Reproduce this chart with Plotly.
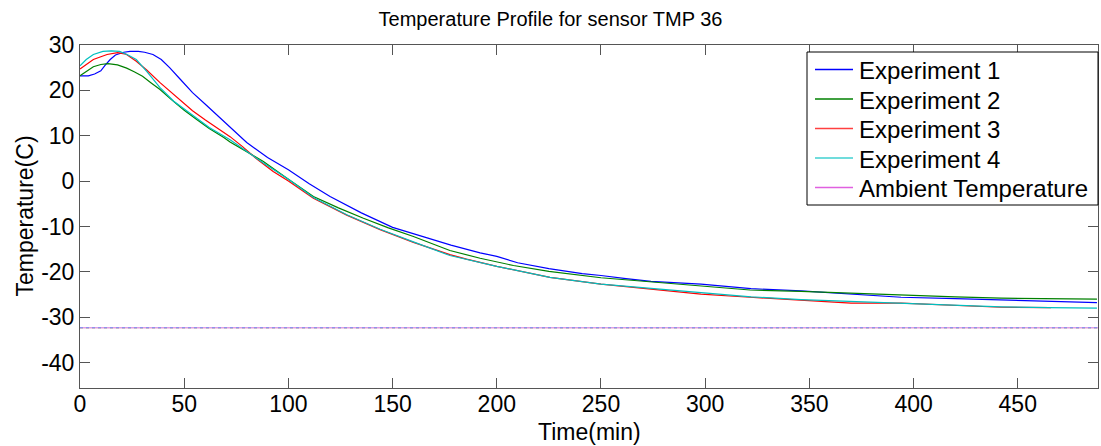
import plotly.graph_objects as go

# ---- data ----
t_exp1 = [0, 4, 7, 10, 12, 14.5, 17, 21, 24, 28, 31, 35, 39, 43, 48, 54, 60, 70, 80, 90, 100, 110, 120, 135, 150,
          165, 178, 192, 200, 210, 225, 241, 250, 262, 274, 298, 322, 346, 370, 394, 420, 442, 465, 488]
T_exp1 = [23.2, 23.2, 23.6, 24.3, 25.5, 26.8, 27.8, 28.4, 28.6, 28.6, 28.4, 27.9, 26.8, 25.0, 22.5, 19.5, 17.0, 12.8,
          8.5, 5.2, 2.5, -0.6, -3.4, -7.0, -10.2, -12.3, -14.1, -15.8, -16.6, -18.0, -19.3, -20.4, -20.8, -21.5,
          -22.1, -22.7, -23.7, -24.2, -24.9, -25.6, -25.9, -26.2, -26.5, -26.8]

t_exp2 = [0, 3, 6.4, 10, 13.4, 18, 22.4, 26, 30, 34, 38.4, 44, 50, 56, 62, 69, 72, 80, 88, 100, 112, 124, 136, 148,
          160, 177.5, 192, 208, 225, 250, 273.5, 298, 321.5, 346, 370, 394, 420, 442, 465, 488]
T_exp2 = [23.2, 24.2, 25.2, 25.7, 25.9, 25.6, 24.9, 24.1, 23.1, 21.7, 20.2, 17.9, 15.6, 13.6, 11.6, 9.6, 8.6, 6.5,
          4.3, 0.4, -3.4, -5.9, -8.2, -10.3, -12.2, -15.3, -17.0, -18.6, -19.9, -21.3, -22.2, -23.1, -24.0, -24.3,
          -24.7, -25.2, -25.5, -25.8, -25.9, -26.0]

t_exp3 = [0, 3, 6.4, 10, 13, 18, 22, 27, 32, 38.4, 45, 54, 60, 72, 78, 85, 92.7, 100, 112, 128, 144, 160, 177.5,
          185.5, 200, 225.5, 250, 273.5, 298, 321.5, 346, 370, 394, 420, 442, 466]
T_exp3 = [24.7, 25.7, 26.8, 27.4, 27.9, 28.3, 28.0, 26.4, 24.5, 21.7, 19.0, 15.5, 13.5, 9.8, 7.6, 4.8, 2.1, 0.0,
          -3.8, -7.5, -10.7, -13.5, -16.2, -17.2, -18.8, -21.2, -22.7, -23.7, -24.9, -25.6, -26.2, -26.9, -26.9,
          -27.3, -27.8, -27.9]

t_exp4 = [0, 3, 6.4, 11, 15, 19, 23, 27, 32, 38.4, 45, 54, 62, 72, 80, 88, 100, 112, 128, 144, 160, 177.5, 200,
          225.5, 250, 273.5, 298, 322, 346, 370, 394, 420, 442, 465, 488]
T_exp4 = [25.4, 26.8, 27.9, 28.6, 28.7, 28.6, 27.8, 26.8, 24.2, 20.6, 17.6, 14.6, 11.8, 9.1, 6.5, 4.0, 0.4, -3.6,
          -7.4, -10.6, -13.4, -16.4, -18.8, -21.2, -22.7, -23.6, -24.7, -25.5, -26.1, -26.5, -26.9, -27.3, -27.7,
          -27.9, -28.0]

t_ambient = [0, 488.5]
T_ambient = [-32.3, -32.3]

series_names = ["Experiment 1", "Experiment 2", "Experiment 3", "Experiment 4", "Ambient Temperature"]
x_ticks = [0, 50, 100, 150, 200, 250, 300, 350, 400, 450]
x_tick_labels = ["0", "50", "100", "150", "200", "250", "300", "350", "400", "450"]
y_ticks = [-40, -30, -20, -10, 0, 10, 20, 30]
y_tick_labels = ["-40", "-30", "-20", "-10", "0", "10", "20", "30"]

colors = ["#0000FF", "#008000", "#FF0000", "#00BFBF", "#BF00BF"]
FONT = "Arial, Liberation Sans, sans-serif"

# plot-area geometry (pixels) used for paper-coordinate placement of decorations
W, H = 1101, 446
L, R, T, B = 80, 3, 45, 58
PW, PH = W - L - R, H - T - B

fig = go.Figure()
for name, t, Tv, c in zip(series_names[:4], [t_exp1, t_exp2, t_exp3, t_exp4],
                          [T_exp1, T_exp2, T_exp3, T_exp4], colors[:4]):
    fig.add_trace(go.Scatter(x=t, y=Tv, mode="lines", name=name, showlegend=False,
                             line=dict(color=c, width=1.2)))

# ambient line: mixed-colour dotted look
fig.add_trace(go.Scatter(x=t_ambient, y=T_ambient, mode="lines", name=series_names[4], showlegend=False,
                         line=dict(color="#e0a0e0", width=1.5)))
for c in ["#f0a070", "#90d090", "#9090f0"]:
    fig.add_trace(go.Scatter(x=t_ambient, y=T_ambient, mode="lines", showlegend=False,
                             line=dict(color=c, width=1.3, dash="dot"), hoverinfo="skip"))

axis_common = dict(showline=True, linecolor="#555555", linewidth=1, mirror="ticks",
                   ticks="inside", ticklen=10, tickcolor="#555555", tickwidth=1,
                   showgrid=False, zeroline=False,
                   tickfont=dict(family=FONT, size=23, color="black"))

fig.update_layout(
    width=W, height=H,
    margin=dict(l=L, r=R, t=T, b=B),
    paper_bgcolor="white", plot_bgcolor="white",
    font=dict(family=FONT, color="black"),
    title=dict(text="Temperature Profile for sensor TMP 36", x=0.5, xref="container",
               y=1 - 19 / H, yref="container", yanchor="middle", xanchor="center",
               font=dict(family=FONT, size=20, color="black")),
    xaxis=dict(range=[0, 488.5], tickvals=x_ticks, ticktext=x_tick_labels,
               ticklabelstandoff=-5, **axis_common),
    yaxis=dict(range=[-45.6, 30], tickvals=y_ticks, ticktext=y_tick_labels,
               ticklabelstandoff=0, **axis_common),
    showlegend=False,
)

# axis titles
fig.add_annotation(text="Time(min)", xref="paper", yref="paper", x=0.5, y=-(432 - (H - B)) / PH,
                   xanchor="center", yanchor="middle", showarrow=False,
                   font=dict(family=FONT, size=23, color="black"))
fig.add_annotation(text="Temperature(C)", xref="paper", yref="paper", x=-(L - 24) / PW, y=0.5,
                   xanchor="center", yanchor="middle", showarrow=False, textangle=-90,
                   font=dict(family=FONT, size=23, color="black"))

# legend box (MATLAB style)
def px_x(p):
    return (p - L) / PW

def px_y(p):
    return (H - B - p) / PH

fig.add_shape(type="rect", xref="paper", yref="paper", x0=px_x(807), x1=1.0, y0=px_y(205), y1=px_y(52),
              line=dict(color="black", width=1), fillcolor="white", layer="above")
row_y = [69.5, 99, 128.5, 158, 187.5]
legend_colors = ["#0000FF", "#008000", "#FF4040", "#40D0D0", "#E060E0"]
for name, c, yy in zip(series_names, legend_colors, row_y):
    fig.add_shape(type="line", xref="paper", yref="paper", x0=px_x(815), x1=px_x(853),
                  y0=px_y(yy), y1=px_y(yy), line=dict(color=c, width=1.5), layer="above")
    fig.add_annotation(text=name, xref="paper", yref="paper", x=px_x(857), y=px_y(yy + 1),
                       xanchor="left", yanchor="middle", showarrow=False,
                       font=dict(family=FONT, size=24, color="black"))

fig.write_html("out.html", config={"displayModeBar": False},
               post_script="document.body.style.margin='0px';")
